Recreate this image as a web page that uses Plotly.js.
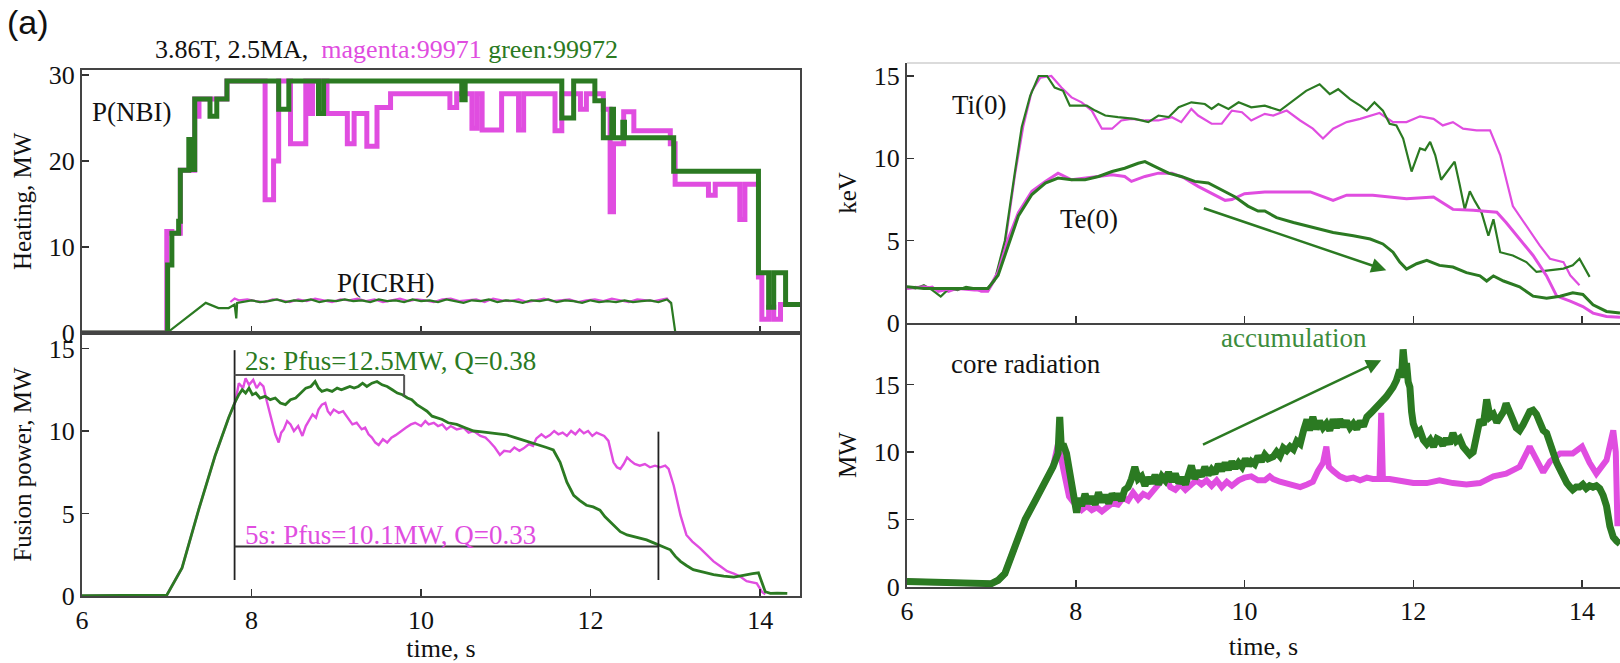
<!DOCTYPE html>
<html>
<head>
<meta charset="utf-8">
<script src="https://cdn.plot.ly/plotly-3.0.1.min.js"></script>
<style>html,body{margin:0;padding:0;background:#fff;}#chart{width:1620px;height:663px;}</style>
</head>
<body>
<div id="chart"></div>
<script>
// ---------- Data ----------
// P(NBI) step traces
const nbiMagT = [6.0,7.0,7.06,7.16,7.33,7.36,7.38,7.71,8.16,8.26,8.32,8.46,8.64,8.68,8.72,8.89,9.13,9.21,9.36,9.48,9.64,10.34,10.42,10.60,10.66,10.72,10.95,11.15,11.21,11.58,11.66,11.88,11.95,12.15,12.23,12.27,12.39,12.51,12.94,12.997,13.39,13.47,13.76,13.82,13.98,14.02,14.10,14.16,14.24,14.47];
const nbiMagP = [0,11.8,11.6,18.9,27.2,25.2,27.2,29.3,15.5,20.0,29.3,22.0,29.3,25.5,29.3,25.5,22.0,25.5,21.7,26.2,27.8,26.2,27.8,23.8,27.8,23.6,27.8,23.6,27.8,23.5,27.8,26.0,27.8,26.0,14.1,22.0,25.7,23.5,22.0,17.3,16.0,17.3,13.2,17.3,6.5,1.6,3.0,1.6,3.3,3.3];
const nbiGrnT = [6.0,7.01,7.06,7.14,7.16,7.26,7.28,7.33,7.51,7.59,7.71,8.32,8.44,8.79,8.85,10.48,10.52,11.66,11.80,12.05,12.15,12.25,12.27,12.38,12.40,12.98,13.98,14.10,14.16,14.30,14.47];
const nbiGrnP = [0,7.9,11.6,13.0,18.9,22.5,19.0,27.2,25.2,27.2,29.3,26.0,29.3,25.5,29.3,27.1,29.3,25.0,29.3,27.0,22.7,26.0,22.7,24.5,22.7,18.8,7.0,3.0,7.0,3.3,3.3];
// P(ICRH)
const icrhMagT = [7.75,7.8,7.85,7.95,8.05,8.15,8.25,8.35,8.45,8.55,8.65,8.75,8.85,8.95,9.05,9.15,9.25,9.35,9.45,9.55,9.65,9.75,9.85,9.95,10.05,10.15,10.25,10.35,10.45,10.55,10.65,10.75,10.85,10.95,11.05,11.15,11.25,11.35,11.45,11.55,11.65,11.75,11.85,11.95,12.05,12.15,12.25,12.35,12.45,12.55,12.65,12.75,12.85,12.9,12.95];
const icrhMagP = [3.6,4.0,3.8,3.9,3.7,3.6,3.9,3.8,3.6,3.9,3.7,4.0,3.8,3.6,3.9,3.8,4.0,3.7,3.9,3.6,3.8,4.0,3.7,3.9,3.8,3.6,3.9,4.0,3.7,3.8,3.9,3.6,4.0,3.8,3.7,3.9,3.6,3.8,4.0,3.7,3.8,3.9,3.6,3.8,3.9,3.7,4.0,3.8,3.6,3.9,3.8,3.7,3.9,4.0,3.4];
const icrhGrnT = [7.0,7.46,7.61,7.73,7.80,7.82,7.83,7.9,8.0,8.1,8.2,8.3,8.4,8.5,8.6,8.7,8.8,8.9,9.0,9.1,9.2,9.3,9.4,9.5,9.6,9.7,9.8,9.9,10.0,10.1,10.2,10.3,10.4,10.5,10.6,10.7,10.8,10.9,11.0,11.1,11.2,11.3,11.4,11.5,11.6,11.7,11.8,11.9,12.0,12.1,12.2,12.3,12.4,12.5,12.6,12.7,12.8,12.9,12.95,13.0];
const icrhGrnP = [0,3.5,2.9,2.9,3.3,1.7,3.5,3.6,3.8,3.6,3.7,3.9,3.6,3.8,3.7,3.9,3.6,3.8,3.7,3.9,3.7,3.8,3.6,3.9,3.7,3.8,3.6,3.9,3.7,3.8,3.6,3.9,3.7,3.5,3.8,3.7,3.9,3.6,3.8,3.7,3.5,3.8,3.7,3.9,3.6,3.8,3.7,3.5,3.8,3.6,3.7,3.6,3.8,3.6,3.7,3.8,3.6,3.9,3.5,0];
// Fusion power
const fusMagT = [6.0,6.5,7.0,7.18,7.38,7.57,7.73,7.81,7.85,7.9,7.93,7.97,8.02,8.06,8.1,8.14,8.18,8.24,8.28,8.32,8.35,8.38,8.42,8.46,8.5,8.55,8.6,8.64,8.67,8.72,8.76,8.79,8.83,8.87,8.9,8.93,8.97,9.03,9.08,9.13,9.19,9.24,9.3,9.34,9.38,9.42,9.46,9.5,9.55,9.6,9.65,9.7,9.76,9.82,9.88,9.93,10.0,10.05,10.09,10.15,10.2,10.25,10.3,10.35,10.42,10.5,10.56,10.62,10.7,10.76,10.81,10.87,10.93,10.98,11.05,11.1,11.16,11.21,11.27,11.32,11.36,11.42,11.47,11.52,11.57,11.62,11.67,11.72,11.77,11.82,11.87,11.92,11.97,12.02,12.07,12.11,12.16,12.21,12.25,12.27,12.31,12.35,12.39,12.43,12.47,12.52,12.58,12.64,12.7,12.76,12.82,12.88,12.92,12.98,13.02,13.06,13.13,13.2,13.29,13.37,13.45,13.53,13.61,13.69,13.76,13.84,13.9,13.96,14.02,14.06];
const fusMagP = [0,0.05,0.05,1.7,5.3,8.5,10.8,11.8,12.9,12.6,13.2,12.8,13.1,12.6,12.9,12.7,11.8,10.6,9.8,9.3,9.9,10.1,10.6,10.4,10.0,10.3,9.7,10.3,10.6,11.0,10.8,11.3,11.6,11.7,11.2,11.0,11.3,11.1,11.2,10.8,10.4,10.5,10.1,10.2,9.8,9.6,9.3,9.15,9.5,9.3,9.6,9.75,10.0,10.2,10.4,10.5,10.3,10.6,10.4,10.5,10.3,10.4,10.1,10.3,10.1,10.2,9.9,10.0,9.7,9.6,9.35,9.0,8.55,8.8,8.75,9.0,8.8,8.95,9.2,9.1,9.55,9.8,9.6,9.75,10.0,9.8,9.9,9.7,10.0,9.8,10.1,9.86,10.0,9.7,9.9,9.8,9.7,9.4,8.6,8.1,7.8,7.7,8.0,8.4,8.2,8.0,7.9,8.0,7.8,7.9,7.8,7.9,7.7,6.7,5.8,4.9,3.7,3.3,2.9,2.5,2.1,1.8,1.5,1.35,1.2,0.9,0.85,0.77,0.26,0.1];
const fusGrnT = [6.0,7.0,7.18,7.38,7.57,7.73,7.81,7.85,7.89,7.93,7.97,8.01,8.05,8.1,8.16,8.22,8.28,8.34,8.40,8.46,8.52,8.58,8.64,8.7,8.75,8.79,8.83,8.89,8.95,9.01,9.06,9.11,9.16,9.21,9.26,9.31,9.36,9.42,9.48,9.54,9.6,9.66,9.72,9.78,9.84,9.89,9.95,10.01,10.07,10.13,10.19,10.25,10.32,10.42,10.52,10.62,10.72,10.81,10.91,11.01,11.11,11.21,11.30,11.40,11.48,11.56,11.6,11.64,11.68,11.72,11.76,11.8,11.87,11.95,12.03,12.11,12.17,12.23,12.29,12.35,12.43,12.51,12.58,12.66,12.73,12.8,12.87,12.94,13.0,13.06,13.13,13.21,13.33,13.45,13.57,13.69,13.77,13.84,13.91,13.98,14.02,14.06,14.12,14.2,14.32];
const fusGrnP = [0.02,0.05,1.7,5.3,8.5,10.8,11.8,12.2,12.5,12.3,12.6,12.2,12.3,12.0,12.1,11.9,12.0,11.7,11.6,11.9,12.0,12.3,12.6,12.7,13.0,12.6,12.4,12.5,12.4,12.6,12.5,12.6,12.7,12.6,12.7,12.9,12.7,12.9,13.0,12.8,12.7,12.5,12.3,12.2,12.0,11.9,11.6,11.4,11.2,10.9,10.8,10.7,10.5,10.4,10.2,10.0,9.95,9.9,9.8,9.76,9.6,9.45,9.3,9.15,9.0,8.85,8.5,8.1,7.5,6.9,6.5,6.1,5.8,5.5,5.4,5.2,4.8,4.5,4.2,3.9,3.7,3.6,3.5,3.4,3.25,3.1,2.95,2.8,2.4,2.1,1.85,1.6,1.45,1.3,1.2,1.15,1.22,1.3,1.35,1.4,0.8,0.26,0.16,0.18,0.16];
// Ti(0), Te(0)
const tiMagT = [6.0,6.1,6.2,6.3,6.37,6.45,6.49,6.6,6.7,6.8,6.88,6.96,7.04,7.16,7.28,7.38,7.48,7.58,7.71,7.83,7.95,8.07,8.19,8.31,8.43,8.54,8.66,8.82,8.98,9.14,9.25,9.37,9.45,9.61,9.73,9.85,9.97,10.08,10.24,10.34,10.5,10.66,10.81,10.93,11.05,11.21,11.37,11.52,11.6,11.76,11.92,12.08,12.24,12.35,12.47,12.59,12.75,12.91,13.03,13.18,13.34,13.5,13.62,13.78,13.86,13.97];
const tiMagV = [2.1,2.2,2.1,2.2,1.9,2.0,1.9,2.1,2.1,2.1,1.9,1.9,2.6,4.7,9.0,12.0,14.1,14.9,15.0,14.3,13.7,13.4,12.9,11.8,11.8,12.3,12.4,12.3,12.3,12.5,12.2,13.0,12.6,12.1,12.1,12.9,12.8,12.3,12.7,12.6,12.9,12.3,11.8,11.2,11.8,12.2,12.4,12.65,12.75,12.2,12.2,12.55,12.4,12.0,12.2,11.8,11.7,11.7,10.2,7.1,5.9,4.7,3.9,3.7,2.9,2.3];
const tiGrnT = [6.0,6.1,6.2,6.3,6.4,6.5,6.6,6.7,6.8,6.95,7.04,7.16,7.28,7.36,7.46,7.56,7.66,7.75,7.85,7.93,8.03,8.13,8.23,8.35,8.5,8.7,8.86,8.98,9.1,9.22,9.37,9.53,9.61,9.69,9.81,9.93,10.08,10.24,10.42,10.58,10.73,10.89,11.01,11.11,11.25,11.37,11.45,11.54,11.64,11.72,11.80,11.88,11.98,12.08,12.14,12.20,12.26,12.33,12.43,12.49,12.55,12.61,12.67,12.73,12.81,12.89,12.95,13.03,13.18,13.34,13.46,13.62,13.78,13.89,13.97,14.09];
const tiGrnV = [2.2,2.1,2.3,2.0,1.6,2.1,2.0,2.2,2.1,2.1,2.6,5.0,9.2,11.9,13.8,15.0,15.0,14.3,14.1,13.2,13.2,13.2,12.9,12.6,12.5,12.4,12.2,12.6,12.5,13.1,13.4,13.3,13.0,13.3,13.0,13.4,13.1,13.2,12.9,13.5,14.1,14.5,13.9,14.2,13.6,13.2,12.9,13.4,12.9,12.1,12.0,11.2,9.2,10.6,10.5,11.0,10.2,8.7,9.4,9.8,8.4,6.9,8.0,7.4,6.7,5.3,6.3,4.3,4.1,3.7,3.1,3.2,3.3,3.5,3.9,2.8];
const teMagT = [6.0,6.2,6.4,6.6,6.8,6.96,7.08,7.2,7.32,7.48,7.64,7.79,7.95,8.11,8.27,8.43,8.58,8.66,8.82,8.98,9.14,9.29,9.45,9.61,9.77,9.85,10.0,10.24,10.5,10.78,11.05,11.21,11.52,11.76,11.92,12.24,12.35,12.47,12.71,12.99,13.1,13.26,13.42,13.58,13.7,13.86,14.01,14.13,14.29,14.45];
const teMagV = [2.1,2.2,2.0,2.1,2.0,2.0,3.1,5.1,6.7,8.0,8.6,9.1,8.7,8.8,8.9,9.0,8.9,8.6,8.9,9.1,9.1,8.8,8.3,7.9,7.45,7.5,7.85,7.96,7.96,7.96,7.45,7.76,7.76,7.65,7.55,7.65,7.3,6.9,6.84,6.73,6.1,5.1,4.1,2.86,1.63,1.33,1.0,0.6,0.4,0.35];
const teGrnT = [6.0,6.2,6.4,6.6,6.8,6.96,7.08,7.2,7.32,7.48,7.64,7.79,7.95,8.11,8.27,8.43,8.58,8.74,8.82,8.94,9.1,9.25,9.41,9.57,9.73,9.89,10.04,10.16,10.24,10.38,10.58,10.81,11.05,11.29,11.49,11.64,11.76,11.84,11.92,12.04,12.16,12.31,12.47,12.63,12.79,12.87,12.95,13.07,13.26,13.42,13.58,13.74,13.89,14.01,14.13,14.29,14.45];
const teGrnV = [2.2,2.1,2.1,2.1,2.1,2.1,2.9,4.7,6.5,7.8,8.5,8.8,8.7,8.7,8.9,9.2,9.4,9.7,9.8,9.5,9.1,8.9,8.6,8.5,8.1,7.65,7.1,6.8,6.8,6.4,6.1,5.8,5.5,5.3,5.1,4.8,4.3,3.7,3.27,3.6,3.8,3.5,3.4,3.06,2.86,2.55,2.86,2.55,2.2,1.63,1.5,1.63,1.84,1.73,1.1,0.7,0.6];
// Core radiation
const radMagT = [6.0,6.5,7.0,7.08,7.16,7.28,7.4,7.52,7.63,7.73,7.79,7.82,7.85,7.89,7.92,7.97,8.01,8.07,8.13,8.19,8.25,8.31,8.37,8.43,8.5,8.56,8.62,8.68,8.74,8.8,8.86,8.92,8.98,9.06,9.12,9.18,9.24,9.3,9.37,9.43,9.49,9.55,9.61,9.67,9.73,9.79,9.85,9.93,10.0,10.08,10.16,10.24,10.3,10.34,10.42,10.5,10.58,10.66,10.74,10.81,10.87,10.93,10.97,11.0,11.05,11.13,11.21,11.29,11.37,11.45,11.52,11.6,11.62,11.64,11.72,11.84,12.0,12.16,12.31,12.47,12.63,12.79,12.95,13.1,13.26,13.38,13.46,13.54,13.62,13.74,13.89,14.0,14.09,14.17,14.29,14.37,14.4,14.42];
const radMagP = [0.4,0.3,0.25,0.5,1.0,3.0,5.0,6.4,7.7,8.9,10.6,9.6,8.9,7.6,6.7,6.3,6.0,5.7,6.0,5.7,5.9,5.6,5.9,6.2,6.1,6.6,6.4,7.0,6.5,6.9,6.7,7.2,7.6,8.2,7.4,7.2,7.6,7.2,7.6,7.9,7.6,7.9,7.5,7.9,7.4,7.8,7.5,7.9,8.1,8.2,7.9,7.9,8.2,8.0,7.8,7.7,7.5,7.4,7.6,7.8,8.6,9.2,10.4,8.9,8.6,8.2,8.0,8.1,7.9,8.1,8.0,8.0,12.9,8.0,8.0,7.9,7.7,7.7,7.9,7.7,7.6,7.7,8.2,8.4,8.9,10.4,9.4,8.5,9.3,9.9,9.9,10.4,9.2,8.4,9.4,11.6,10.0,4.5];
const radGrnT = [6.0,6.3,6.6,6.9,7.0,7.08,7.16,7.28,7.4,7.52,7.63,7.73,7.79,7.81,7.83,7.85,7.89,7.95,8.01,8.04,8.07,8.11,8.15,8.19,8.23,8.27,8.31,8.35,8.39,8.43,8.47,8.5,8.54,8.58,8.62,8.66,8.7,8.74,8.78,8.82,8.86,8.9,8.94,8.98,9.02,9.06,9.1,9.14,9.18,9.22,9.26,9.3,9.34,9.37,9.41,9.45,9.49,9.53,9.57,9.61,9.65,9.69,9.73,9.77,9.81,9.85,9.89,9.93,9.97,10.01,10.05,10.08,10.12,10.16,10.2,10.24,10.28,10.34,10.38,10.42,10.46,10.5,10.54,10.58,10.62,10.66,10.7,10.74,10.77,10.81,10.85,10.89,10.93,10.97,11.01,11.05,11.09,11.13,11.17,11.21,11.25,11.29,11.33,11.37,11.41,11.45,11.5,11.56,11.62,11.68,11.72,11.76,11.8,11.84,11.86,11.88,11.9,11.92,11.94,11.96,11.98,12.0,12.04,12.08,12.12,12.16,12.2,12.24,12.28,12.31,12.35,12.39,12.43,12.47,12.51,12.55,12.59,12.63,12.67,12.71,12.75,12.79,12.83,12.87,12.91,12.95,12.99,13.03,13.07,13.1,13.14,13.18,13.22,13.26,13.3,13.34,13.38,13.42,13.46,13.5,13.54,13.58,13.62,13.66,13.7,13.74,13.78,13.82,13.86,13.89,13.93,13.97,14.01,14.05,14.09,14.13,14.17,14.21,14.25,14.29,14.33,14.37,14.41,14.45];
const radGrnP = [0.4,0.35,0.3,0.2,0.25,0.5,1.0,3.0,5.0,6.4,7.7,8.9,9.9,12.6,10.2,10.6,9.9,7.4,5.5,6.6,6.0,6.9,6.2,6.7,6.1,7.0,6.3,6.8,6.2,6.9,6.5,6.9,6.4,7.2,7.4,8.0,8.9,8.0,8.2,7.5,8.1,7.7,8.3,7.6,8.2,7.9,8.5,7.8,8.4,7.7,8.1,7.6,8.4,9.0,8.0,8.6,8.2,8.9,8.3,8.7,8.4,9.1,8.6,9.2,8.7,9.3,8.8,9.2,8.9,9.5,9.0,9.3,9.1,9.7,9.3,9.8,9.5,9.65,10.0,9.7,10.3,10.1,10.4,10.2,10.8,10.6,11.6,12.4,11.6,12.6,11.7,12.3,11.8,12.1,11.6,12.4,11.8,12.4,11.9,12.3,11.8,12.1,11.7,12.3,11.9,12.6,12.9,13.4,13.7,14.1,14.4,14.8,15.3,16.1,15.5,17.6,16.3,16.6,15.2,14.8,13.0,12.1,11.4,11.6,10.9,10.6,10.9,10.4,11.0,10.9,10.5,11.0,10.6,11.4,10.8,11.0,10.4,10.1,9.8,10.0,11.0,12.4,12.0,13.9,12.6,12.8,12.2,12.6,13.0,13.6,12.8,12.4,11.8,11.6,12.0,12.4,13.0,13.1,12.8,12.2,11.6,11.4,10.6,9.9,9.2,8.7,8.1,7.7,7.4,7.2,7.4,7.4,7.6,7.3,7.5,7.4,7.5,7.3,6.8,6.0,4.5,3.7,3.4,3.2];

// ---------- Styling ----------
const MAG = '#E04DE0';
const GRN = '#2B7A22';
const SERIF = 'Liberation Serif, Times New Roman, serif';
const W = 1620, H = 663;
const px = x => x / W;
const py = y => 1 - y / H;

function line(x, y, color, width, xa, ya, shape) {
  return {x: x, y: y, type: 'scatter', mode: 'lines', xaxis: xa, yaxis: ya,
    line: {color: color, width: width, shape: shape || 'linear'}, hoverinfo: 'skip', showlegend: false};
}

const traces = [
  line(nbiMagT, nbiMagP, MAG, 5, 'x', 'y', 'hv'),
  line(nbiGrnT, nbiGrnP, GRN, 5, 'x', 'y', 'hv'),
  line(icrhMagT, icrhMagP, MAG, 2.2, 'x', 'y'),
  line(icrhGrnT, icrhGrnP, GRN, 2.2, 'x', 'y'),
  line(fusMagT, fusMagP, MAG, 2.4, 'x2', 'y2'),
  line(fusGrnT, fusGrnP, GRN, 2.8, 'x2', 'y2'),
  line(tiMagT, tiMagV, MAG, 2.2, 'x3', 'y3'),
  line(tiGrnT, tiGrnV, GRN, 2.2, 'x3', 'y3'),
  line(teMagT, teMagV, MAG, 3, 'x3', 'y3'),
  line(teGrnT, teGrnV, GRN, 3, 'x3', 'y3'),
  line(radMagT, radMagP, MAG, 6, 'x4', 'y4'),
  line(radGrnT, radGrnP, GRN, 7, 'x4', 'y4')
];

const tickFont = {family: SERIF, size: 26, color: '#111'};
const xTitleFont = {family: SERIF, size: 26, color: '#111'};
const yTitleFont = {family: SERIF, size: 25, color: '#111'};
function xax(domain, range, anchor, showLabels, mirror, title) {
  const a = {domain: domain, range: range, anchor: anchor, showline: true, linecolor: '#444', linewidth: 2,
    mirror: mirror, ticks: 'inside', ticklen: 7, tickwidth: 1.5, tickcolor: '#333', tickvals: [6,8,10,12,14],
    showticklabels: showLabels, tickfont: tickFont, showgrid: false, zeroline: false, fixedrange: true};
  if (title) a.title = {text: title, font: xTitleFont, standoff: 12};
  return a;
}
function yax(domain, range, anchor, dtick, mirror, title) {
  return {domain: domain, range: range, anchor: anchor, showline: true, linecolor: '#444', linewidth: 2,
    mirror: mirror, ticks: 'inside', ticklen: 7, tickwidth: 1.5, tickcolor: '#333', dtick: dtick, tick0: 0,
    tickfont: tickFont, showgrid: false, zeroline: false, fixedrange: true,
    title: {text: title, font: yTitleFont, standoff: 10}};
}

const LX = [px(82), px(800)], RX = [px(907), 1];
const TXT = 27;
const layout = {
  width: W, height: H, margin: {l: 0, r: 0, t: 0, b: 0}, paper_bgcolor: '#fff', plot_bgcolor: '#fff',
  showlegend: false,
  xaxis: xax(LX, [6, 14.47], 'y', false, true),
  yaxis: yax([py(333), py(69.7)], [0, 30.6], 'x', 10, true, 'Heating, MW'),
  xaxis2: xax(LX, [6, 14.47], 'y2', true, true, 'time, s'),
  yaxis2: yax([py(596), py(333)], [0, 15.94], 'x2', 5, true, 'Fusion power, MW'),
  xaxis3: xax(RX, [6, 14.45], 'y3', false, false),
  yaxis3: yax([py(323), py(63)], [0, 15.79], 'x3', 5, false, 'keV'),
  xaxis4: xax(RX, [6, 14.45], 'y4', true, false, 'time, s'),
  yaxis4: yax([py(587), py(323)], [0, 19.56], 'x4', 5, false, 'MW'),
  shapes: [
    // top border of Ti/Te panel
    {type: 'line', xref: 'paper', yref: 'paper', x0: px(907), x1: 1, y0: py(63), y1: py(63), line: {color: '#cfcfcf', width: 1.5}},
    // Fusion-power averaging windows
    {type: 'line', xref: 'x2', yref: 'y2', x0: 7.8, x1: 7.8, y0: 0.97, y1: 14.9, line: {color: '#222', width: 1.8}},
    {type: 'line', xref: 'x2', yref: 'y2', x0: 7.8, x1: 9.8, y0: 13.4, y1: 13.4, line: {color: '#555', width: 2}},
    {type: 'line', xref: 'x2', yref: 'y2', x0: 9.8, x1: 9.8, y0: 12.1, y1: 13.4, line: {color: '#555', width: 2}},
    {type: 'line', xref: 'x2', yref: 'y2', x0: 7.8, x1: 12.8, y0: 3.0, y1: 3.0, line: {color: '#333', width: 2}},
    {type: 'line', xref: 'x2', yref: 'y2', x0: 12.8, x1: 12.8, y0: 0.97, y1: 9.96, line: {color: '#222', width: 1.8}}
  ],
  annotations: [
    {text: '(a)', xref: 'paper', yref: 'paper', x: px(28), y: py(22), xanchor: 'center', yanchor: 'middle', showarrow: false,
      font: {family: 'Liberation Sans, Arial, sans-serif', size: 34, color: '#111'}},
    {text: '3.86T, 2.5MA,  <span style="color:' + MAG + '">magenta:99971</span> <span style="color:' + GRN + '">green:99972</span>',
      xref: 'paper', yref: 'paper', x: px(386), y: py(50), xanchor: 'center', yanchor: 'middle', showarrow: false,
      font: {family: SERIF, size: 26, color: '#111'}},
    {text: 'P(NBI)', xref: 'paper', yref: 'paper', x: px(132), y: py(112), xanchor: 'center', yanchor: 'middle', showarrow: false, font: {family: SERIF, size: TXT, color: '#111'}},
    {text: 'P(ICRH)', xref: 'paper', yref: 'paper', x: px(386), y: py(283), xanchor: 'center', yanchor: 'middle', showarrow: false, font: {family: SERIF, size: TXT, color: '#111'}},
    {text: '2s: Pfus=12.5MW, Q=0.38', xref: 'paper', yref: 'paper', x: px(243), y: py(361), xanchor: 'left', yanchor: 'middle', showarrow: false, font: {family: SERIF, size: TXT, color: GRN}},
    {text: '5s: Pfus=10.1MW, Q=0.33', xref: 'paper', yref: 'paper', x: px(243), y: py(535), xanchor: 'left', yanchor: 'middle', showarrow: false, font: {family: SERIF, size: TXT, color: MAG}},
    {text: 'Ti(0)', xref: 'paper', yref: 'paper', x: px(979), y: py(105), xanchor: 'center', yanchor: 'middle', showarrow: false, font: {family: SERIF, size: TXT, color: '#111'}},
    {text: 'Te(0)', xref: 'paper', yref: 'paper', x: px(1089), y: py(219), xanchor: 'center', yanchor: 'middle', showarrow: false, font: {family: SERIF, size: TXT, color: '#111'}},
    {text: 'core radiation', xref: 'paper', yref: 'paper', x: px(1026), y: py(364), xanchor: 'center', yanchor: 'middle', showarrow: false, font: {family: SERIF, size: TXT, color: '#111'}},
    {text: 'accumulation', xref: 'paper', yref: 'paper', x: px(1294), y: py(338), xanchor: 'center', yanchor: 'middle', showarrow: false, font: {family: SERIF, size: TXT, color: '#3C8C3C'}},
    // arrows
    {xref: 'x3', yref: 'y3', x: 11.68, y: 3.2, axref: 'x3', ayref: 'y3', ax: 9.5, ay: 7.0, showarrow: true, text: '',
      arrowhead: 2, arrowsize: 1.2, arrowwidth: 2.5, arrowcolor: GRN},
    {xref: 'x4', yref: 'y4', x: 11.62, y: 16.8, axref: 'x4', ayref: 'y4', ax: 9.49, ay: 10.5, showarrow: true, text: '',
      arrowhead: 2, arrowsize: 1.2, arrowwidth: 2.5, arrowcolor: GRN}
  ]
};

Plotly.newPlot('chart', traces, layout, {staticPlot: true, displayModeBar: false});
</script>
</body>
</html>
